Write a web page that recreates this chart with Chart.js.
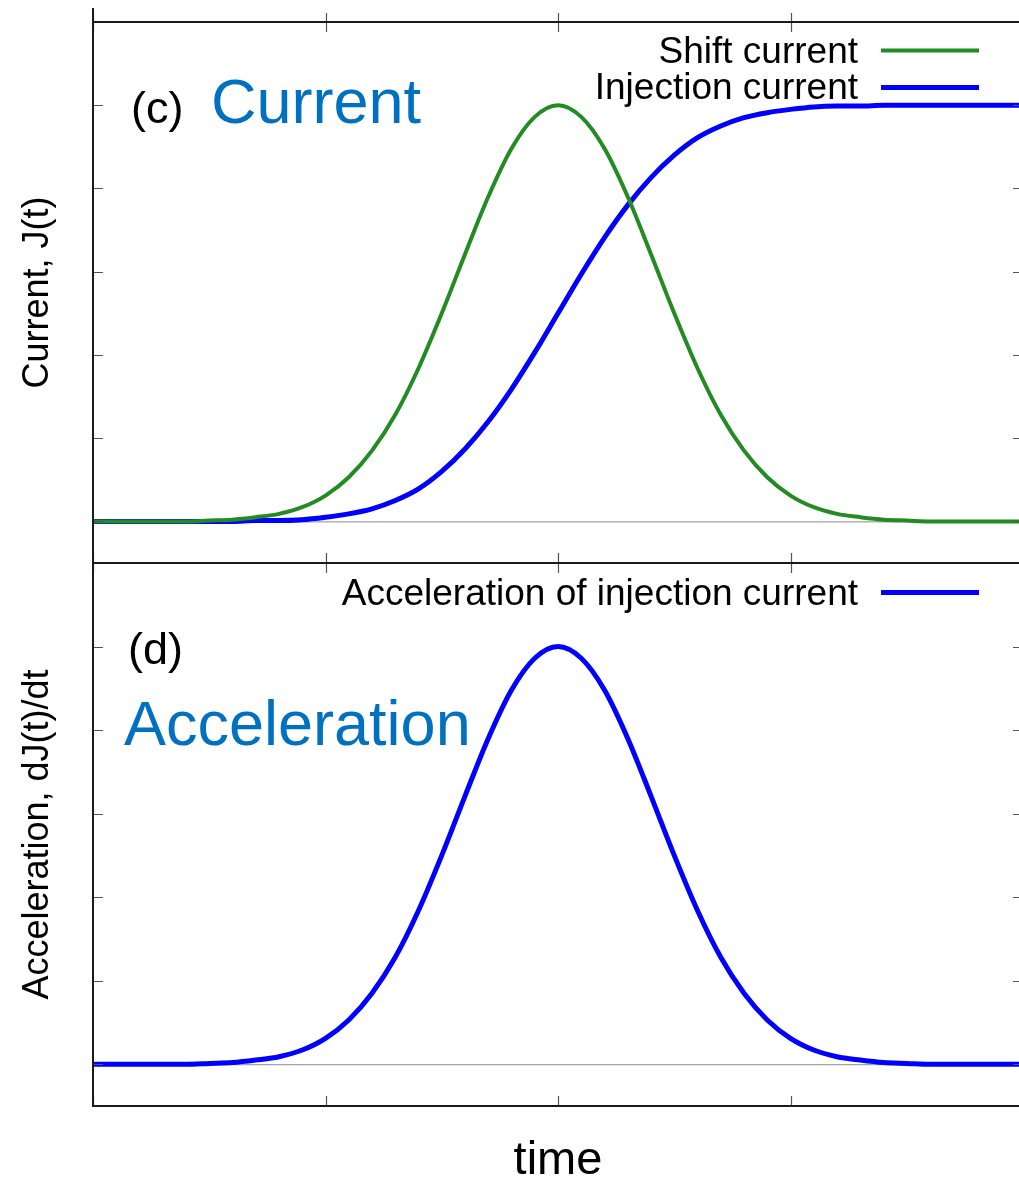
<!DOCTYPE html>
<html>
<head>
<meta charset="utf-8">
<script src="https://cdn.jsdelivr.net/npm/chart.js@4.4.1/dist/chart.umd.min.js"></script>
<style>
  html, body { margin: 0; padding: 0; background: #fff; overflow: hidden; width: 1019px; height: 1179px; }
  #wrap { position: relative; width: 1040px; height: 1179px; }
  canvas { position: absolute; left: 0; }
  #cTop { top: 0; }
  #cBot { top: 540px; }
</style>
</head>
<body>
<div id="wrap">
  <canvas id="cTop" width="1040" height="600"></canvas>
  <canvas id="cBot" width="1040" height="639"></canvas>
</div>
<script>
// Sampled time axis (arbitrary units)
const time = [0.0, 0.1, 0.2, 0.3, 0.4, 0.5, 0.6, 0.7, 0.8, 0.9,
              1.0, 1.1, 1.2, 1.3, 1.4, 1.5, 1.6, 1.7, 1.8, 1.9,
              2.0, 2.1, 2.2, 2.3, 2.4, 2.5, 2.6, 2.7, 2.8, 2.9,
              3.0, 3.1, 3.2, 3.3, 3.4, 3.5, 3.6, 3.7, 3.8, 3.9, 4.0];

// Panel (c): shift current J(t)
const shiftCurrent = [0, 0, 0, 0, 0, 0.01, 0.02, 0.05, 0.09, 0.17,
                      0.31, 0.53, 0.85, 1.28, 1.84, 2.50, 3.21, 3.90, 4.48, 4.86,
                      5.00, 4.86, 4.48, 3.90, 3.21, 2.50, 1.84, 1.28, 0.85, 0.53,
                      0.31, 0.17, 0.09, 0.05, 0.02, 0.01, 0, 0, 0, 0, 0];

// Panel (c): injection current J(t)
const injectionCurrent = [0, 0, 0, 0, 0, 0, 0, 0.01, 0.01, 0.02,
                          0.05, 0.09, 0.15, 0.25, 0.39, 0.60, 0.87, 1.20, 1.59, 2.03,
                          2.50, 2.97, 3.41, 3.80, 4.13, 4.40, 4.61, 4.75, 4.85, 4.91,
                          4.95, 4.98, 4.99, 4.99, 5.00, 5.00, 5.00, 5.00, 5.00, 5.00, 5.00];

// Panel (d): acceleration of the injection current dJ(t)/dt
const injectionAcceleration = [0, 0, 0, 0, 0, 0.01, 0.02, 0.05, 0.09, 0.17,
                               0.31, 0.53, 0.85, 1.28, 1.84, 2.50, 3.21, 3.90, 4.48, 4.86,
                               5.00, 4.86, 4.48, 3.90, 3.21, 2.50, 1.84, 1.28, 0.85, 0.53,
                               0.31, 0.17, 0.09, 0.05, 0.02, 0.01, 0, 0, 0, 0, 0];

// Tick positions (unlabelled in the figure)
const xTicks = [0, 1, 2, 3, 4];
const yTicks = [0, 1, 2, 3, 4, 5, 6];

const GREEN = '#228b22';
const BLUE = '#0000ff';
const TITLE_BLUE = '#0070c0';
const FONT = '"Liberation Sans", Arial, Helvetica, sans-serif';

function pts(values) {
  return time.map((t, i) => ({ x: t, y: values[i] }));
}

function drawText(ctx, str, x, y, size, color, align) {
  ctx.save();
  ctx.font = size + 'px ' + FONT;
  ctx.fillStyle = color;
  ctx.textAlign = align;
  ctx.textBaseline = 'alphabetic';
  ctx.fillText(str, x, y);
  ctx.restore();
}

function drawVerticalText(ctx, str, x, y, size) {
  ctx.save();
  ctx.translate(x, y);
  ctx.rotate(-Math.PI / 2);
  ctx.font = size + 'px ' + FONT;
  ctx.fillStyle = '#000';
  ctx.textAlign = 'center';
  ctx.textBaseline = 'middle';
  ctx.fillText(str, 0, 0);
  ctx.restore();
}

// Frame, inward ticks, zero line and annotations for one panel
const panelDecor = {
  id: 'panelDecor',
  beforeDatasetsDraw(chart) {
    const { ctx, chartArea: ca, scales: { y } } = chart;
    const y0 = y.getPixelForValue(0);
    ctx.save();
    ctx.strokeStyle = '#8c8c8c';
    ctx.lineWidth = 1;
    ctx.beginPath();
    ctx.moveTo(ca.left, y0 + 0.5);
    ctx.lineTo(ca.right, y0 + 0.5);
    ctx.stroke();
    ctx.restore();
  },
  afterDatasetsDraw(chart, args, opts) {
    const { ctx, chartArea: ca, scales: { x, y } } = chart;
    ctx.save();
    // tick marks
    ctx.strokeStyle = '#555';
    ctx.lineWidth = 1.2;
    ctx.beginPath();
    xTicks.forEach(v => {
      const px = Math.round(x.getPixelForValue(v)) + 0.5;
      ctx.moveTo(px, ca.top); ctx.lineTo(px, ca.top + 10);
      ctx.moveTo(px, ca.bottom); ctx.lineTo(px, ca.bottom - 10);
      if (opts.outerTopTicks) { ctx.moveTo(px, ca.top); ctx.lineTo(px, ca.top - 9); }
    });
    yTicks.forEach(v => {
      const py = Math.round(y.getPixelForValue(v)) + 0.5;
      ctx.moveTo(ca.left, py); ctx.lineTo(ca.left + 10, py);
      ctx.moveTo(ca.right, py); ctx.lineTo(ca.right - 10, py);
    });
    ctx.stroke();
    // border
    ctx.strokeStyle = '#1a1a1a';
    ctx.lineWidth = 2;
    ctx.strokeRect(ca.left, ca.top, ca.right - ca.left, ca.bottom - ca.top);
    if (opts.leftExtend) {
      ctx.beginPath();
      ctx.moveTo(ca.left, ca.top);
      ctx.lineTo(ca.left, ca.top - opts.leftExtend);
      ctx.stroke();
    }
    ctx.restore();

    // panel tag and coloured title
    drawText(ctx, opts.tag, opts.tagX, opts.tagY, 45, '#000', 'left');
    drawText(ctx, opts.title, opts.titleX, opts.titleY, 63, TITLE_BLUE, 'left');

    // key: text right-aligned, then a line sample
    opts.key.forEach(k => {
      const ds = chart.data.datasets[k.index];
      drawText(ctx, ds.label, 858, k.baseline, 37, '#000', 'right');
      ctx.save();
      ctx.strokeStyle = ds.borderColor;
      ctx.lineWidth = ds.borderWidth;
      ctx.beginPath();
      ctx.moveTo(881, k.lineY);
      ctx.lineTo(979, k.lineY);
      ctx.stroke();
      ctx.restore();
    });

    // axis titles
    drawVerticalText(ctx, opts.yTitle, 38, (ca.top + ca.bottom) / 2, 36);
    if (opts.xTitle) {
      drawText(ctx, opts.xTitle, x.getPixelForValue(2), ca.bottom + 68, 47, '#000', 'center');
    }
  }
};

function makeChart(id, datasets, padding, decor) {
  return new Chart(document.getElementById(id), {
    type: 'line',
    data: { datasets },
    options: {
      responsive: false,
      animation: false,
      layout: { padding },
      elements: { point: { radius: 0 }, line: { cubicInterpolationMode: 'monotone' } },
      scales: {
        x: { type: 'linear', min: 0, max: 4, display: false },
        y: { type: 'linear', min: -0.5, max: 6, display: false }
      },
      plugins: {
        legend: { display: false },
        tooltip: { enabled: false },
        panelDecor: decor
      }
    },
    plugins: [panelDecor]
  });
}

makeChart('cTop', [
  { label: 'Shift current', data: pts(shiftCurrent), borderColor: GREEN, borderWidth: 4, fill: false },
  { label: 'Injection current', data: pts(injectionCurrent), borderColor: BLUE, borderWidth: 5, fill: false }
], { top: 22, left: 93, right: 17, bottom: 37 }, {
  tag: '(c)', tagX: 131, tagY: 123,
  title: 'Current', titleX: 211, titleY: 123,
  key: [{ index: 0, baseline: 63, lineY: 50.5 }, { index: 1, baseline: 99, lineY: 87.5 }],
  yTitle: 'Current, J(t)',
  outerTopTicks: true, leftExtend: 14
});

makeChart('cBot', [
  { label: 'Acceleration of injection current', data: pts(injectionAcceleration), borderColor: BLUE, borderWidth: 5, fill: false }
], { top: 23, left: 93, right: 17, bottom: 73 }, {
  tag: '(d)', tagX: 128, tagY: 124,
  title: 'Acceleration', titleX: 124, titleY: 205,
  key: [{ index: 0, baseline: 65, lineY: 52.5 }],
  yTitle: 'Acceleration, dJ(t)/dt',
  xTitle: 'time'
});
</script>
</body>
</html>
